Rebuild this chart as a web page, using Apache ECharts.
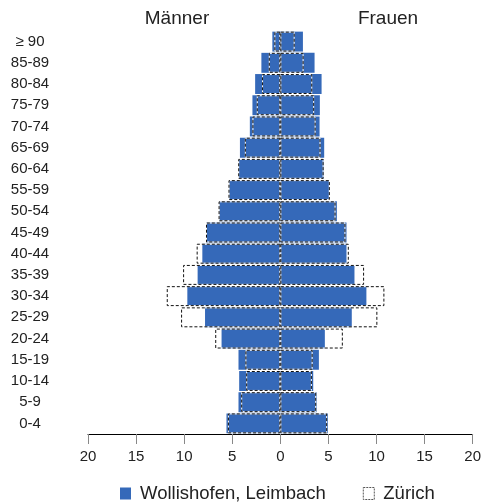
<!DOCTYPE html>
<html>
<head>
<meta charset="utf-8">
<script src="https://cdn.jsdelivr.net/npm/echarts@6/dist/echarts.min.js"></script>
<style>html,body{margin:0;padding:0;background:#fff}#c{width:484px;height:504px}</style>
</head>
<body>
<div id="c"></div>
<script>
var categories = ['≥ 90','85-89','80-84','75-79','70-74','65-69','60-64','55-59','50-54','45-49','40-44','35-39','30-34','25-29','20-24','15-19','10-14','5-9','0-4'];
var menLocal   = [0.83,1.97,2.62,2.90,3.17,4.20,4.31,5.32,6.35,7.67,8.11,8.60,9.67,7.83,6.11,4.35,4.28,4.35,5.60];
var womenLocal = [2.35,3.56,4.29,4.11,4.08,4.56,4.53,5.05,5.88,6.88,6.88,7.71,8.95,7.43,4.63,4.01,3.42,3.77,4.94];
var menCity    = [0.62,1.20,1.90,2.45,2.90,3.69,4.38,5.39,6.42,7.73,8.70,10.11,11.81,10.32,6.77,3.63,3.55,4.07,5.45];
var womenCity  = [1.49,2.42,3.32,3.52,3.67,4.18,4.50,5.15,5.74,6.77,7.12,8.71,10.82,10.09,6.50,3.36,3.28,3.73,4.87];
var xTicks = [-20,-15,-10,-5,0,5,10,15,20];
var localName = 'Wollishofen, Leimbach';
var cityName = 'Zürich';

var neg = function(a){ return a.map(function(v){ return -v; }); };
var blue = '#3569b9';
var gap = '6%';
var ff = 'Liberation Sans, Arial, sans-serif';

function blueSeries(data){
  return {type:'bar', name:localName, data:data, barGap:'-100%', barCategoryGap:gap,
    itemStyle:{color:blue}, silent:true, z:2};
}
function whiteSeries(data){
  return {type:'bar', name:'_w', data:data, barGap:'-100%', barCategoryGap:gap,
    itemStyle:{color:'rgba(0,0,0,0)', borderColor:'#ffffff', borderWidth:1}, silent:true, z:3};
}
function dashSeries(data){
  return {type:'bar', name:cityName, data:data, barGap:'-100%', barCategoryGap:gap,
    itemStyle:{color:'rgba(0,0,0,0)', borderColor:'#111', borderWidth:1, borderType:[3,2]}, silent:true, z:4};
}

var chart = echarts.init(document.getElementById('c'), null, {renderer:'canvas'});
chart.setOption({
  animation:false,
  backgroundColor:'#fff',
  textStyle:{fontFamily:ff},
  title:[
    {text:'Männer', left:172, top:4, textAlign:'center', textStyle:{fontSize:19, fontWeight:'normal', color:'#222', fontFamily:ff}},
    {text:'Frauen', left:383, top:4, textAlign:'center', textStyle:{fontSize:19, fontWeight:'normal', color:'#222', fontFamily:ff}}
  ],
  legend:{
    data:[
      {name:localName, itemStyle:{color:blue, borderWidth:0}},
      {name:cityName, itemStyle:{color:'#fff', borderColor:'#555', borderWidth:1, borderType:[2,1]}}
    ],
    left:115, top:479, itemWidth:11, itemHeight:12, itemGap:37, icon:'rect',
    selectedMode:false,
    textStyle:{fontSize:18.5, color:'#222', fontFamily:ff, padding:[0,0,0,4]}
  },
  grid:{left:88, right:11, top:31, bottom:70, containLabel:false},
  xAxis:{
    type:'value', min:xTicks[0], max:xTicks[xTicks.length-1], interval:5,
    axisLine:{show:true, onZero:false, lineStyle:{color:'#000', width:1}},
    axisTick:{show:true, length:10, lineStyle:{color:'#888'}},
    splitLine:{show:false},
    axisLabel:{margin:15, fontSize:15, color:'#222', formatter:function(v){return Math.abs(v);}}
  },
  yAxis:{
    type:'category', data:categories, inverse:true,
    axisLine:{show:false}, axisTick:{show:false},
    axisLabel:{margin:58, align:'center', fontSize:15, color:'#222', padding:[0,0,2,0]}
  },
  series:[
    blueSeries(neg(menLocal)),
    blueSeries(womenLocal),
    whiteSeries(neg(menCity)),
    whiteSeries(womenCity),
    dashSeries(neg(menCity)),
    dashSeries(womenCity)
  ]
});
</script>
</body>
</html>
